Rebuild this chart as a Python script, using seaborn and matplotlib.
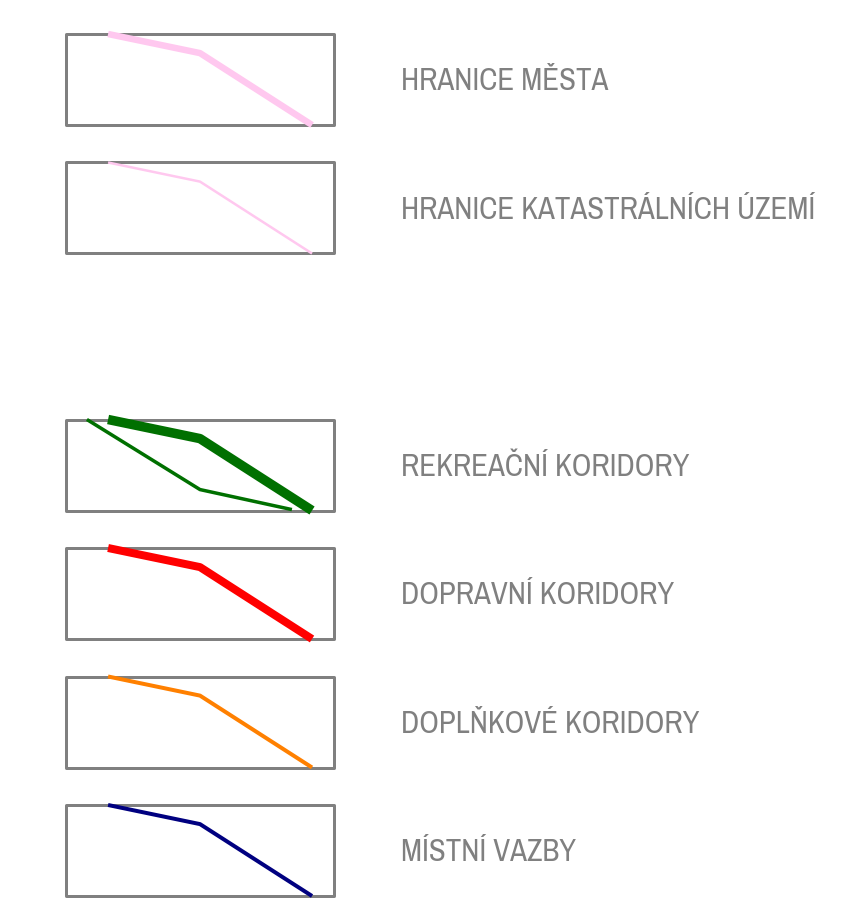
import matplotlib
matplotlib.use("Agg")
import matplotlib.pyplot as plt
import seaborn as sns
import numpy as np
from matplotlib import font_manager

# legend items (row slot, label, colour, line width in px)
slots = [0, 1, 3, 4, 5, 6]
labels = ["HRANICE MĚSTA", "HRANICE KATASTRÁLNÍCH ÚZEMÍ", "REKREAČNÍ KORIDORY",
          "DOPRAVNÍ KORIDORY", "DOPLŇKOVÉ KORIDORY", "MÍSTNÍ VAZBY"]
colors = ["#ffc8ef", "#ffc8ef", "#007000", "#ff0000", "#ff8000", "#000080"]
widths = [6.5, 2.5, 9.5, 8, 4, 4]

# symbol polyline, relative to the box (0..1)
sym_x = [0.157, 0.5, 0.918]
sym_y = [0.0, 0.21, 1.0]
# second green line (recreation corridor)
sym2_x = [0.078, 0.5, 0.843]
sym2_y = [0.0, 0.77, 0.99]

sns.set_theme(style="white")
names = {f.name for f in font_manager.fontManager.ttflist}
fam = next((f for f in ["Archivo Narrow", "Roboto Condensed", "PT Sans Narrow"]
            if f in names), "Liberation Sans")
plt.rcParams["font.family"] = [fam, "DejaVu Sans"]

W, H = 858, 921
fig = plt.figure(figsize=(W / 100, H / 100), dpi=100)
ax = fig.add_axes([0, 0, 1, 1])
ax.set_xlim(0, W)
ax.set_ylim(H, 0)
ax.axis("off")

px = 72 / 100  # px -> pt
bx0, bx1 = 66, 334
bh = 91
top0, pitch = 34, 128.5

for i, (s, lab, c, w) in enumerate(zip(slots, labels, colors, widths)):
    y0 = top0 + s * pitch
    ax.add_patch(plt.Rectangle((bx0, y0), bx1 - bx0, bh, fill=False,
                               edgecolor="#808080", lw=3 * px, joinstyle="round"))
    xs = bx0 + np.array(sym_x) * (bx1 - bx0)
    ys = y0 + np.array(sym_y) * bh
    if i == 2:
        xs2 = bx0 + np.array(sym2_x) * (bx1 - bx0)
        ys2 = y0 + np.array(sym2_y) * bh
        sns.lineplot(x=xs2, y=ys2, ax=ax, color=c, lw=3.5 * px, sort=False,
                     solid_capstyle="butt")
    sns.lineplot(x=xs, y=ys, ax=ax, color=c, lw=w * px, sort=False,
                 solid_capstyle="butt")
    ax.text(401, y0 + 56, lab, color="#808080", fontsize=22.2,
            va="baseline", ha="left")

ax.set_xlim(0, W)
ax.set_ylim(H, 0)
fig.savefig("out.png", dpi=100)
